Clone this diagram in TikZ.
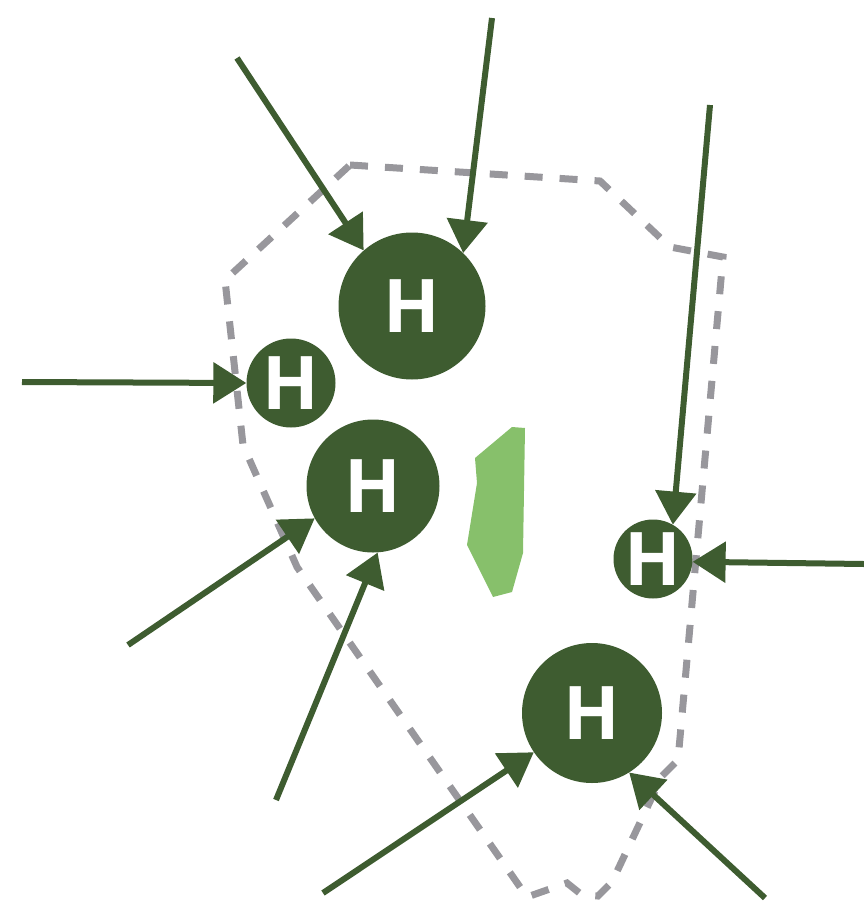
\documentclass[tikz,border=0pt]{standalone}
\usepackage{fontspec}
\setmainfont{Open Sans}
\usetikzlibrary{arrows.meta}
\definecolor{dkgreen}{RGB}{62,92,48}
\definecolor{ltgreen}{RGB}{135,192,107}
\definecolor{dashgray}{RGB}{152,151,156}
\begin{document}
\begin{tikzpicture}[x=1pt,y=-1pt,
  hatom/.style={circle,fill=dkgreen,inner sep=0pt,text=white,
    font=\fontsize{74}{74}\selectfont\bfseries},
  push/.style={draw=dkgreen,line width=6pt,-{Triangle[length=33pt,width=40pt]}},
  boundary/.style={draw=dashgray,line width=7pt,dash pattern=on 18pt off 17pt}]
\useasboundingbox (0,0) rectangle (864,910);
% dashed boundary
\draw[boundary] (350,165) -- (600,181) -- (670,247) -- (723,257) -- (678,760)
  -- (662,776) -- (612,882) -- (598,896) -- (582,895) -- (567,883) -- (527,897)
  -- (297,567) -- (243,445) -- (225,280) -- cycle;
% light green blob
\fill[ltgreen] (475,458) -- (512,427) -- (525,428) -- (523,553) -- (512,592)
  -- (493,597) -- (467,545) -- (477,483) -- cycle;
% atoms
\node[hatom,minimum size=147pt] (c1) at (412,306) {H};
\node[hatom,minimum size=89pt]  (c2) at (291,383) {H};
\node[hatom,minimum size=133pt] (c3) at (373,486) {H};
\node[hatom,minimum size=79pt]  (c4) at (653,559) {H};
\node[hatom,minimum size=140pt] (c5) at (592,713) {H};
% tails
\coordinate (t1) at (237,58);
\coordinate (t2) at (492,18);
\coordinate (t3) at (22,382);
\coordinate (t4) at (128,645);
\coordinate (t5) at (276,800);
\coordinate (t6) at (710,105);
\coordinate (t7) at (864,564);
\coordinate (t8) at (323,893);
\coordinate (t9) at (765,898);
% arrows
\draw[push] (t1) -- (c1.131);
\draw[push] (t2) -- (c1.46);
\draw[push] (t3) -- (c2.180);
\draw[push] (t4) -- (c3.209);
\draw[push] (t5) -- (c3.274);
\draw[push] (t6) -- (c4.60);
\draw[push] (t7) -- (c4.-4);
\draw[push] (t8) -- (c5.214);
\draw[push] (t9) -- (c5.302);
\end{tikzpicture}
\end{document}
